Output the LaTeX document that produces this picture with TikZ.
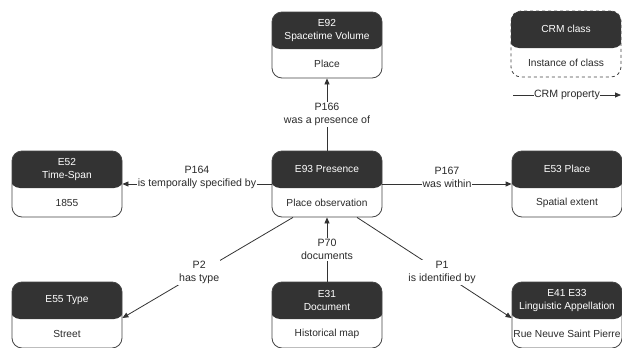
\documentclass[tikz,border=0pt]{standalone}
\usepackage{fontspec}
\setmainfont{Liberation Sans}
\usetikzlibrary{arrows.meta}
\definecolor{hdr}{HTML}{333333}
\definecolor{edge}{HTML}{454545}
\definecolor{txt}{HTML}{2A2A2A}
\tikzset{
  crmbox/.style={draw=edge, line width=0.8pt, rounded corners=10pt,
    minimum width=110pt, minimum height=66pt, inner sep=0pt,
    path picture={\fill[hdr] ([yshift=2pt,xshift=-2pt]path picture bounding box.north west) rectangle ([yshift=-37pt,xshift=2pt]path picture bounding box.north east);}},
  hdrtxt/.style={text=white, align=center, inner sep=0pt, font=\fontsize{10.2}{12.8}\selectfont},
  bodytxt/.style={text=txt, align=center, inner sep=0pt, font=\fontsize{10.2}{12.8}\selectfont},
  rel/.style={draw=hdr, line width=0.8pt, -{Triangle[length=6pt,width=5pt]}},
  lbl/.style={fill=white, text=txt, align=center, inner sep=1pt, font=\fontsize{10.6}{13}\selectfont},
}
\newcommand\crmnode[5][]{%
  \node[crmbox,#1] (#2) at (#3) {};
  \node[hdrtxt] (#2h) at ([yshift=-18.5pt]#2.north) {#4};
  \node[bodytxt] (#2b) at ([yshift=14.5pt]#2.south) {#5};
}
\begin{document}
\begin{tikzpicture}[x=1pt,y=-1pt]
\useasboundingbox[fill=white] (0,0) rectangle (622,348);
\crmnode{e92}{327,45}{E92\\Spacetime Volume}{Place}
\crmnode[dashed]{leg}{566,44}{CRM class}{Instance of class}
\crmnode{e52}{67,184}{E52\\Time-Span}{1855}
\crmnode{e93}{327,184}{E93 Presence}{Place observation}
\crmnode{e53}{567,184}{E53 Place}{Spatial extent}
\crmnode{e55}{67,315}{E55 Type}{Street}
\crmnode{e31}{327,315}{E31\\Document}{Historical map}
\crmnode{e41}{567,315}{E41 E33\\Linguistic Appellation}{Rue Neuve Saint Pierre}

\draw[rel] (e93.north) -- node[lbl]{P166\\was a presence of} (e92.south);
\draw[rel] (e93.west) -- node[lbl,yshift=7pt]{P164\\is temporally specified by} (e52.east);
\draw[rel] (e93.east) -- node[lbl,yshift=7pt]{P167\\was within} (e53.west);
\draw[rel] (e31.north) -- node[lbl]{P70\\documents} (e93.south);
\draw[rel] ([xshift=-34pt]e93.south) -- node[lbl,pos=0.55]{P2\\has type} ([yshift=-3pt]e55.east);
\draw[rel] ([xshift=30pt]e93.south) -- node[lbl,pos=0.55]{P1\\is identified by} ([yshift=-3pt]e41.west);

\coordinate (lgA) at (513,95);
\coordinate (lgB) at (621,95);
\draw[rel] (lgA) -- node[lbl,inner sep=0.5pt]{CRM property} (lgB);
\end{tikzpicture}
\end{document}
